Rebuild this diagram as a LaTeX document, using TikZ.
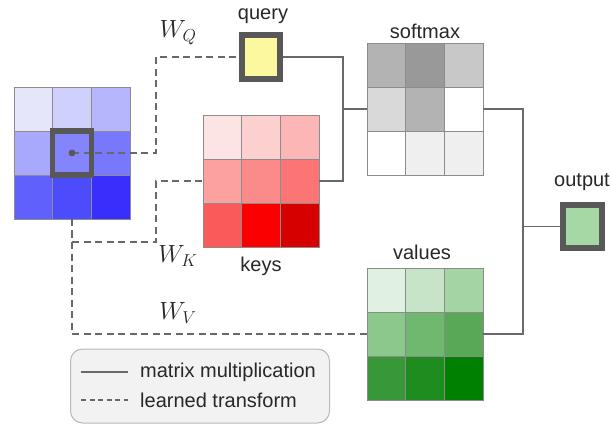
\documentclass[tikz,border=0pt]{standalone}
\usepackage{fontspec}
\newfontfamily\lab{Liberation Sans}
\usetikzlibrary{calc}
\definecolor{b1}{RGB}{230,230,250}\definecolor{b2}{RGB}{208,208,252}\definecolor{b3}{RGB}{182,182,252}
\definecolor{b4}{RGB}{168,168,252}\definecolor{b5}{RGB}{132,132,252}\definecolor{b6}{RGB}{120,120,252}
\definecolor{b7}{RGB}{96,96,252}\definecolor{b8}{RGB}{76,76,252}\definecolor{b9}{RGB}{58,46,252}
\definecolor{r1}{RGB}{253,228,228}\definecolor{r2}{RGB}{253,208,208}\definecolor{r3}{RGB}{253,182,182}
\definecolor{r4}{RGB}{252,160,160}\definecolor{r5}{RGB}{251,138,138}\definecolor{r6}{RGB}{251,117,117}
\definecolor{r7}{RGB}{250,90,90}\definecolor{r8}{RGB}{250,0,0}\definecolor{r9}{RGB}{215,0,0}
\definecolor{g1}{RGB}{224,240,226}\definecolor{g2}{RGB}{200,228,200}\definecolor{g3}{RGB}{164,212,164}
\definecolor{g4}{RGB}{140,200,140}\definecolor{g5}{RGB}{112,184,112}\definecolor{g6}{RGB}{88,168,88}
\definecolor{g7}{RGB}{56,152,56}\definecolor{g8}{RGB}{30,140,30}\definecolor{g9}{RGB}{0,128,0}
\definecolor{s1}{RGB}{179,179,179}\definecolor{s2}{RGB}{153,153,153}\definecolor{s3}{RGB}{200,200,200}
\definecolor{s4}{RGB}{217,217,217}\definecolor{s5}{RGB}{179,179,179}\definecolor{s6}{RGB}{255,255,255}
\definecolor{s7}{RGB}{255,255,255}\definecolor{s8}{RGB}{239,239,239}\definecolor{s9}{RGB}{239,239,239}
\definecolor{qyellow}{RGB}{252,248,160}
\definecolor{ogreen}{RGB}{166,216,166}
\definecolor{hlgray}{RGB}{88,88,88}
\definecolor{linegray}{RGB}{105,105,105}
\definecolor{gridgray}{RGB}{140,140,140}
\definecolor{txt}{RGB}{40,40,40}
\definecolor{legfill}{RGB}{242,242,242}
\definecolor{legdraw}{RGB}{185,185,185}
\newcommand\cellgrid[4]{%
  \foreach \c [count=\k from 0] in {#4} {%
    \pgfmathtruncatemacro\ci{mod(\k,3)}%
    \pgfmathtruncatemacro\cj{div(\k,3)}%
    \filldraw[fill=\c, draw=gridgray, line width=0.8pt] (#2+\ci*38.67, #3+\cj*44) rectangle ++(38.67,44);
  }%
  \node[gridbox, anchor=north west] (#1) at (#2,#3) {};%
}
\begin{document}
\begin{tikzpicture}[x=1pt,y=-1pt,
  gridbox/.style={minimum width=116pt, minimum height=132pt, inner sep=0pt, outer sep=0pt},
  thickbox/.style={draw=hlgray, line width=5.5pt, minimum width=38pt, minimum height=44pt, inner sep=0pt},
  lbl/.style={font=\lab\fontsize{20}{22}\selectfont, text=txt, inner sep=0pt},
  wlbl/.style={font=\fontsize{27}{29}\selectfont, text=txt, inner sep=0pt},
  mm/.style={draw=linegray, line width=1.8pt},
  lt/.style={draw=linegray, line width=1.8pt, dash pattern=on 7pt off 4.5pt}]
\useasboundingbox (0,0) rectangle (611,425);
\fill[white] (0,0) rectangle (611,425);
% grids
\cellgrid{blue}{14}{87}{b1,b2,b3,b4,b5,b6,b7,b8,b9}
\cellgrid{keys}{203}{115}{r1,r2,r3,r4,r5,r6,r7,r8,r9}
\cellgrid{softmax}{367}{43}{s1,s2,s3,s4,s5,s6,s7,s8,s9}
\cellgrid{values}{367}{268}{g1,g2,g3,g4,g5,g6,g7,g8,g9}
% highlighted cell position
\coordinate (dot) at (72,153);
% query and output
\node[thickbox, fill=qyellow] (query) at (261,57) {};
\node[thickbox, fill=ogreen, minimum width=39pt, minimum height=43pt] (output) at (582.5,226.5) {};
% labels
\node[lbl] (lq) at (263,16) {query};
\node[lbl] (ls) at (425,31) {softmax};
\node[lbl] (lk) at (261,266) {keys};
\node[lbl] (lv) at (422,252) {values};
\node[lbl] (lo) at (582,182) {output};
\node[wlbl] (wq) at (178,33) {$W_Q$};
\node[wlbl] (wk) at (178,256) {$W_K$};
\node[wlbl] (wv) at (178,313) {$W_V$};
% bend coordinates
\coordinate (bq) at (156,0);
\coordinate (kb) at (0,242);
\coordinate (sj) at (343,0);
\coordinate (oj) at (523,0);
% learned transforms (dashed)
\draw[lt] (dot) -- (dot -| bq) |- (query.west);
\node[thickbox, minimum width=38.67pt] (cur) at (dot) {};
\fill[hlgray] (cur.center) circle (3.4pt);
\draw[lt] (blue.south) |- (values.west);
\draw[lt] (blue.south |- kb) -| (bq |- keys.west) -- (keys.west);
% matrix multiplications (solid)
\draw[mm] (query.east) -| (sj |- keys.east) -- (keys.east);
\draw[mm] (sj |- softmax.west) -- (softmax.west);
\draw[mm] (softmax.east) -| (oj |- values.east) -- (values.east);
\draw[mm] (oj |- output.west) -- (output.west);
% legend
\node[draw=legdraw, fill=legfill, line width=1pt, rounded corners=12pt, minimum width=259pt, minimum height=74pt, inner sep=0pt] (legend) at (200,386) {};
\coordinate (l1a) at (81,372);
\coordinate (l1b) at (128,372);
\coordinate (l2a) at (81,400);
\coordinate (l2b) at (128,400);
\draw[mm] (l1a) -- (l1b);
\draw[lt, dash pattern=on 5pt off 3.5pt] (l2a) -- (l2b);
\node[lbl, anchor=west] (t1) at (140,372) {matrix multiplication};
\node[lbl, anchor=west] (t2) at (140,400) {learned transform};
\end{tikzpicture}
\end{document}
